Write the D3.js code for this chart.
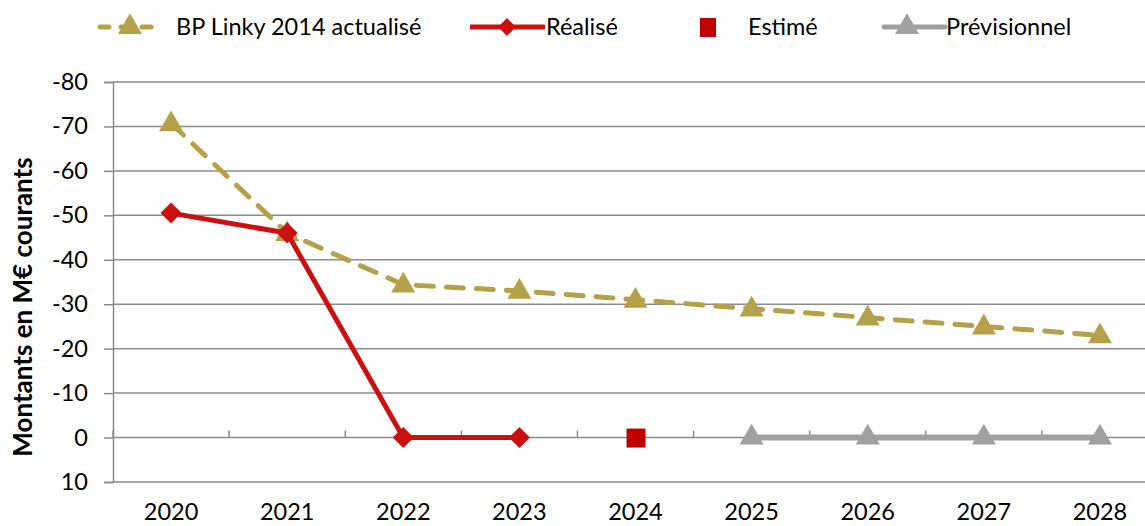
<!DOCTYPE html>
<html><head><meta charset="utf-8">
<script src="https://cdn.jsdelivr.net/npm/d3@7"></script>
<style>body{margin:0;background:#fff}svg{display:block;font-family:Lato,"Open Sans",sans-serif}</style>
</head><body><svg id="c" width="1145" height="526"></svg>
<script>
const years = ["2020","2021","2022","2023","2024","2025","2026","2027","2028"];
const bpValues = [-70.7, -46, -34.4, -33, -31, -29, -27, -25, -23];
const realiseYears = ["2020","2021","2022","2023"];
const realiseValues = [-50.5, -46, 0, 0];
const estimeYears = ["2024"];
const estimeValues = [0];
const previsYears = ["2025","2026","2027","2028"];
const previsValues = [0, 0, 0, 0];
const yTicks = [-80,-70,-60,-50,-40,-30,-20,-10,0,10];
const yTitle = "Montants en M€ courants";
const legendLabels = ["BP Linky 2014 actualisé","Réalisé","Estimé","Prévisionnel"];

const gold = "#B5A14A", red = "#CC1010", dred = "#C00000", grey = "#A0A0A0", gridC = "#8C8C8C";
const FS = 23.5;
const svg = d3.select("#c");
const x = d3.scaleBand().domain(years).range([113, 1158]).padding(0);
const y = d3.scaleLinear().domain([-80, 10]).range([82, 482]);
const cx = d => x(d) + x.bandwidth()/2;

svg.append("g").selectAll("line").data(yTicks).join("line")
  .attr("x1", 113).attr("x2", 1160).attr("y1", d=>y(d)).attr("y2", d=>y(d))
  .attr("stroke", gridC).attr("stroke-width", 1.5);

const ya = svg.append("g").attr("transform","translate(113,0)")
  .call(d3.axisLeft(y).tickValues(yTicks).tickSize(9).tickPadding(16).tickFormat(d => String(d)));
ya.select(".domain").attr("stroke", gridC).attr("stroke-width",1.5);
ya.selectAll(".tick line").attr("stroke", gridC).attr("stroke-width",1.5);
ya.selectAll("text").attr("font-size", FS).attr("fill","#000").attr("font-family","Lato, sans-serif");

const bounds = years.map(d => x(d)).concat([x(years[years.length-1]) + x.bandwidth()]);
svg.append("g").selectAll("line").data(bounds).join("line")
  .attr("x1", d=>d).attr("x2", d=>d).attr("y1", y(0)-7).attr("y2", y(0))
  .attr("stroke", gridC).attr("stroke-width", 1.5);
svg.append("g").selectAll("text").data(years).join("text")
  .attr("x", d=>cx(d)).attr("y", 520).attr("text-anchor","middle")
  .attr("font-size", FS).attr("fill","#000").text(d=>d);

svg.append("text").attr("transform","translate(32,307) rotate(-90)")
  .attr("text-anchor","middle").attr("font-size", 26).attr("font-weight","bold")
  .attr("fill","#000").text(yTitle);

const line = d3.line().x(d=>cx(d[0])).y(d=>y(d[1]));
const tri = d3.symbol().type(d3.symbolTriangle).size(250);
const dia = (s) => `M0,${-s}L${s},0L0,${s}L${-s},0Z`;

const bp = years.map((d,i)=>[d,bpValues[i]]);
svg.append("path").attr("d", line(bp)).attr("fill","none").attr("stroke",gold)
  .attr("stroke-width",5).attr("stroke-dasharray","17,13").attr("stroke-linecap","round");
svg.append("g").selectAll("path").data(bp).join("path")
  .attr("transform", d=>`translate(${cx(d[0])},${y(d[1])+1})`).attr("d", tri()).attr("fill", gold);

const pv = previsYears.map((d,i)=>[d,previsValues[i]]);
svg.append("path").attr("d", line(pv)).attr("fill","none").attr("stroke",grey).attr("stroke-width",6);
svg.append("g").selectAll("path").data(pv).join("path")
  .attr("transform", d=>`translate(${cx(d[0])},${y(d[1])})`).attr("d", tri()).attr("fill", grey);

const rl = realiseYears.map((d,i)=>[d,realiseValues[i]]);
svg.append("path").attr("d", line(rl)).attr("fill","none").attr("stroke",red).attr("stroke-width",5);
svg.append("g").selectAll("path").data(rl).join("path")
  .attr("transform", d=>`translate(${cx(d[0])},${y(d[1])})`).attr("d", dia(10.5)).attr("fill", red);

const es = estimeYears.map((d,i)=>[d,estimeValues[i]]);
svg.append("g").selectAll("rect").data(es).join("rect")
  .attr("x", d=>cx(d[0])-9).attr("y", d=>y(d[1])-9).attr("width",19).attr("height",19).attr("fill", dred);

const lg = svg.append("g");
const ly = 27;
lg.append("path").attr("d",`M100,${ly}L160,${ly}`).attr("stroke",gold).attr("stroke-width",5)
  .attr("stroke-dasharray","9,12").attr("stroke-linecap","round");
lg.append("path").attr("transform",`translate(130,${ly})`).attr("d",tri()).attr("fill",gold);
lg.append("text").attr("x",176).attr("y",ly+8).attr("font-size",FS).text(legendLabels[0]);
lg.append("path").attr("d",`M470,${ly}L545,${ly}`).attr("stroke",red).attr("stroke-width",5);
lg.append("path").attr("transform",`translate(507,${ly})`).attr("d",dia(9)).attr("fill",red);
lg.append("text").attr("x",546).attr("y",ly+8).attr("font-size",FS).text(legendLabels[1]);
lg.append("rect").attr("x",700).attr("y",ly-9).attr("width",16).attr("height",19).attr("fill",dred);
lg.append("text").attr("x",748).attr("y",ly+8).attr("font-size",FS).text(legendLabels[2]);
lg.append("path").attr("d",`M884,${ly}L945,${ly}`).attr("stroke",grey).attr("stroke-width",5).attr("stroke-linecap","round");
lg.append("path").attr("transform",`translate(907,${ly})`).attr("d",tri()).attr("fill",grey);
lg.append("text").attr("x",946).attr("y",ly+8).attr("font-size",FS).text(legendLabels[3]);
</script></body></html>
